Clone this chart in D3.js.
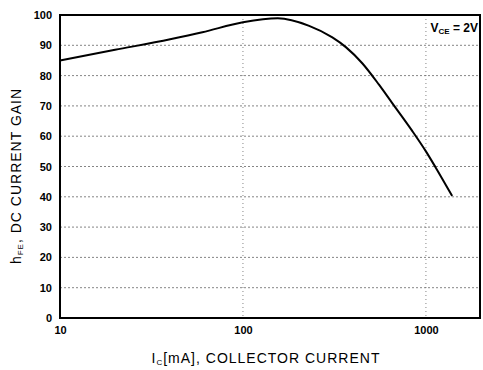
<!DOCTYPE html>
<html lang="en">
<head>
  <meta charset="UTF-8">
  <title>hFE vs Ic</title>
  <script src="https://d3js.org/d3.v7.min.js"></script>
  <style>
    body { margin: 0; background: #fff; }
    text { font-family: Arial, "Liberation Sans", sans-serif; fill: #000; }
  </style>
</head>
<body>
  <script>
    // collector current (mA) and dc current gain
    var current = [10, 20, 40, 60, 100, 155, 230, 308, 365, 450, 554, 653, 836, 1000, 1130, 1390]
    var gain    = [85, 88.5, 92, 94.3, 97.6, 98.9, 96.4, 92.6, 89.4, 84, 77, 71, 62, 55, 49.7, 40.3]
    var yTicks = [0, 10, 20, 30, 40, 50, 60, 70, 80, 90, 100]
    var xTicks = [10, 100, 1000]

    var width = 483
    var height = 370
    var padding = {top: 15, right: 2, bottom: 52, left: 60}
    var svg = d3.select('body').append('svg').attr('width', width).attr('height', height)

    var xScale = d3.scaleLog().domain([10, 2000]).range([padding.left, width - padding.right])
    var yScale = d3.scaleLinear().domain([0, 100]).range([height - padding.bottom, padding.top])

    // grid
    svg.append('g').selectAll('line').data(yTicks.slice(1, -1)).enter().append('line')
      .attr('x1', padding.left).attr('x2', width - padding.right)
      .attr('y1', function (d) { return yScale(d) }).attr('y2', function (d) { return yScale(d) })
      .attr('stroke', '#666').attr('stroke-width', 0.8).attr('stroke-dasharray', '2,2')
    svg.append('g').selectAll('line').data(xTicks.slice(1)).enter().append('line')
      .attr('x1', function (d) { return xScale(d) }).attr('x2', function (d) { return xScale(d) })
      .attr('y1', padding.top).attr('y2', height - padding.bottom)
      .attr('stroke', '#666').attr('stroke-width', 0.8).attr('stroke-dasharray', '1,3')

    // axes labels
    var yAxis = d3.axisLeft(yScale).tickValues(yTicks).tickSize(0).tickPadding(8)
    svg.append('g').attr('transform', 'translate(' + padding.left + ',0)').call(yAxis)
      .call(function (g) { g.select('.domain').remove() })
      .selectAll('text').attr('font-size', 11).attr('font-weight', 'bold')
      .attr('font-family', 'Arial, "Liberation Sans", sans-serif')
    var xAxis = d3.axisBottom(xScale).tickValues(xTicks).tickFormat(d3.format('d')).tickSize(0).tickPadding(8)
    svg.append('g').attr('transform', 'translate(0,' + (height - padding.bottom) + ')').call(xAxis)
      .call(function (g) { g.select('.domain').remove() })
      .selectAll('text').attr('font-size', 11).attr('font-weight', 'bold')
      .attr('font-family', 'Arial, "Liberation Sans", sans-serif')

    // frame
    svg.append('rect').attr('x', padding.left).attr('y', padding.top)
      .attr('width', width - padding.right - padding.left - 1)
      .attr('height', height - padding.bottom - padding.top)
      .attr('fill', 'none').attr('stroke', '#000').attr('stroke-width', 2)

    // curve
    var pts = current.map(function (c, i) { return [c, gain[i]] })
    var line = d3.line().x(function (d) { return xScale(d[0]) }).y(function (d) { return yScale(d[1]) })
      .curve(d3.curveMonotoneX)
    svg.append('path').datum(pts).attr('d', line)
      .attr('fill', 'none').attr('stroke', '#000').attr('stroke-width', 2)

    // condition label
    var lab = svg.append('text').attr('x', 478).attr('y', 32).attr('text-anchor', 'end')
      .attr('font-size', 12).attr('font-weight', 'bold')
    lab.append('tspan').text('V')
    lab.append('tspan').attr('font-size', 8).attr('dy', 2).text('CE')
    lab.append('tspan').attr('dy', -2).text(' = 2V')

    // titles
    var yt = svg.append('text').attr('transform', 'translate(21,' + 176 + ') rotate(-90)')
      .attr('text-anchor', 'middle').attr('font-size', 14).attr('letter-spacing', 1)
    yt.append('tspan').text('h')
    yt.append('tspan').attr('font-size', 8).attr('dy', 2).text('FE')
    yt.append('tspan').attr('dy', -2).text(', DC CURRENT GAIN')

    var xt = svg.append('text').attr('x', 266).attr('y', 363)
      .attr('text-anchor', 'middle').attr('font-size', 14).attr('letter-spacing', 1)
    xt.append('tspan').text('I')
    xt.append('tspan').attr('font-size', 8).attr('dy', 2).text('C')
    xt.append('tspan').attr('dy', -2).text('[mA], COLLECTOR CURRENT')
  </script>
</body>
</html>
